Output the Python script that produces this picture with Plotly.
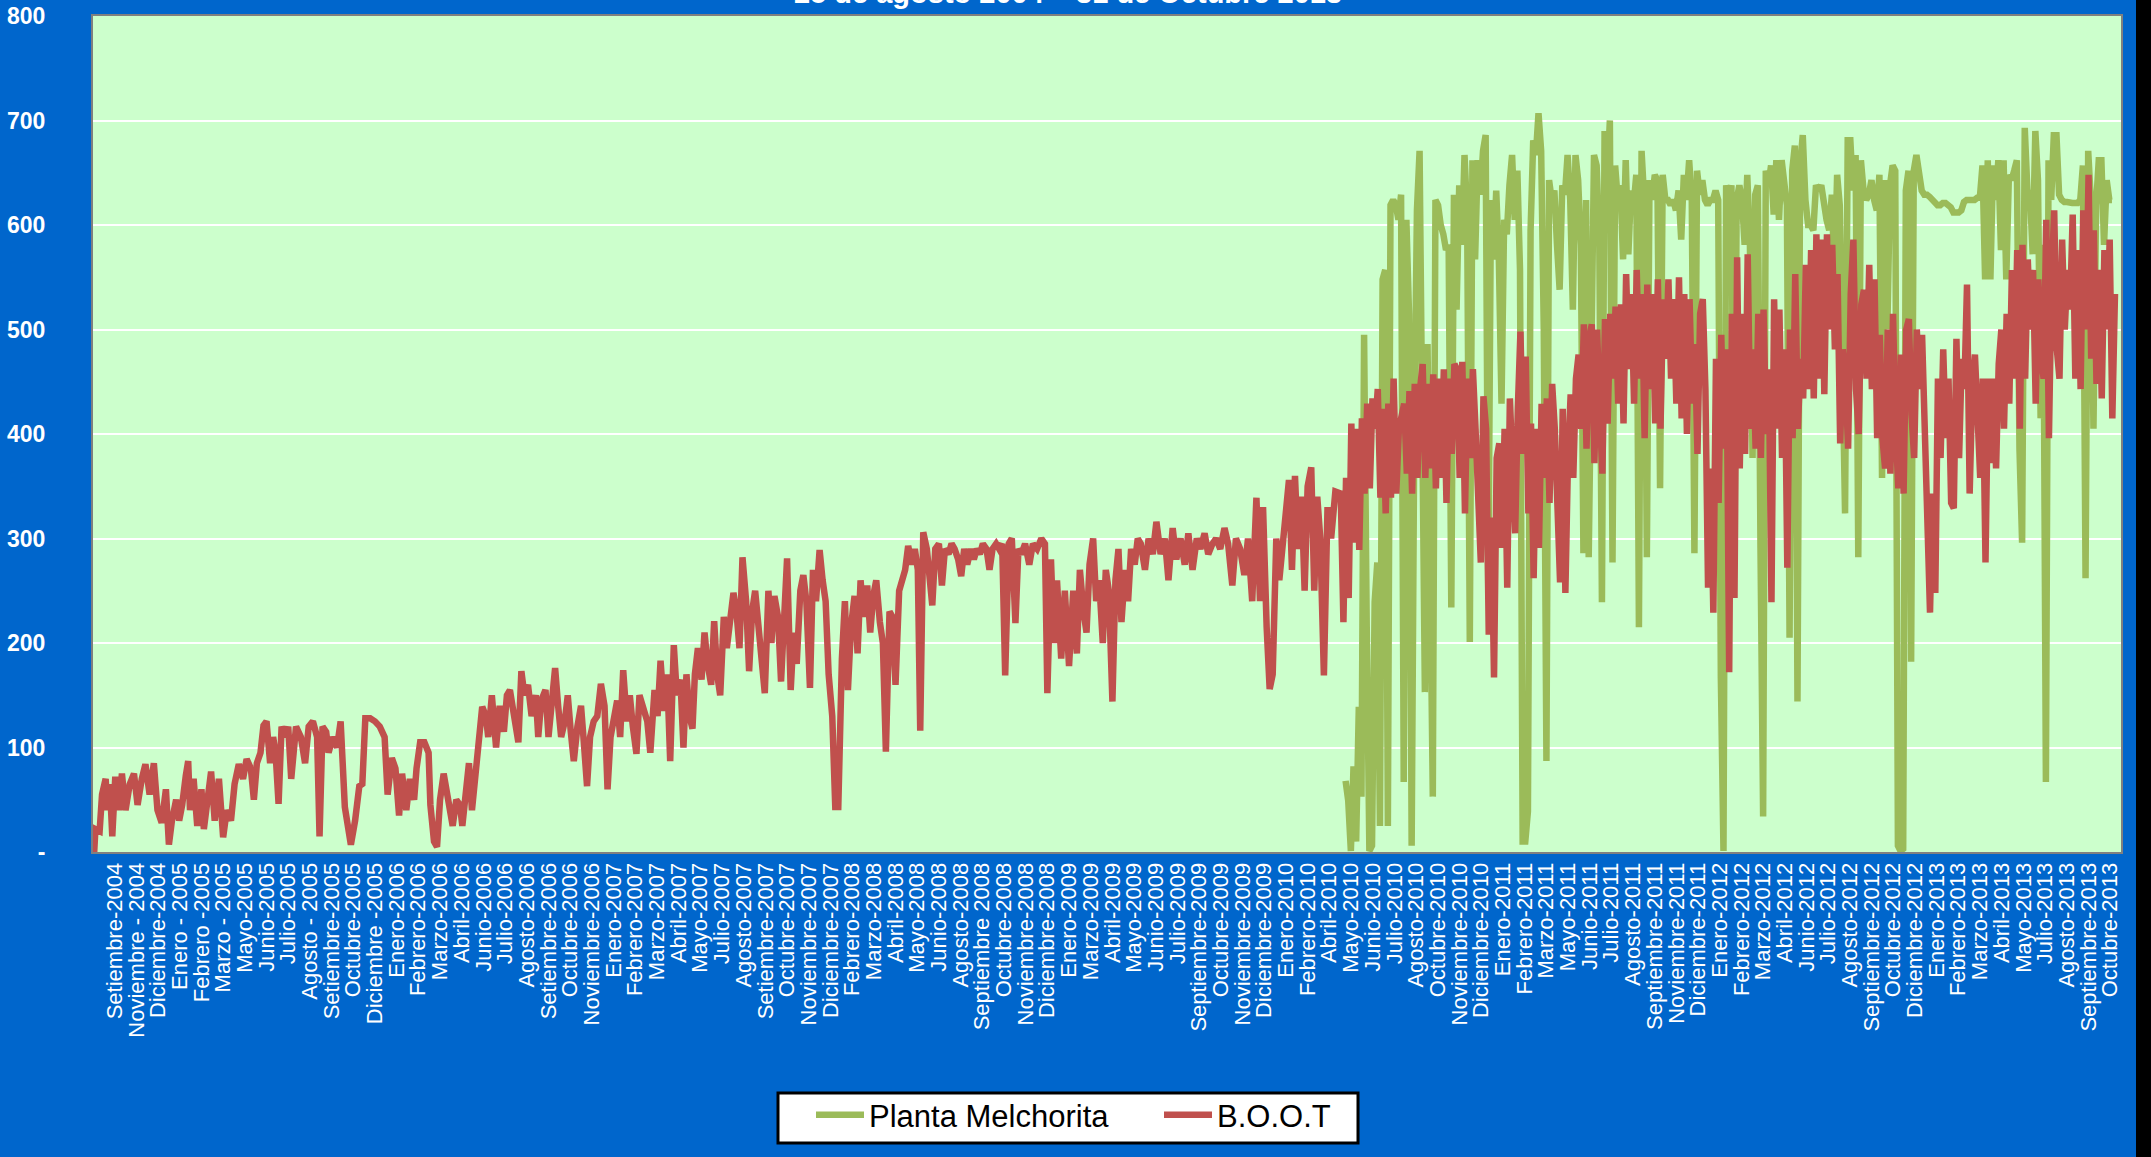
import numpy as np
import plotly.graph_objects as go

# ---------------- data ----------------
titulo = "25 de agosto 2004 – 31 de Octubre 2013"
serie_verde = "Planta Melchorita"
serie_roja = "B.O.O.T"

# category labels of the x axis (one every 36 days)
etiquetas = [
    "Setiembre-2004", "Noviembre - 2004", "Diciembre-2004", "Enero - 2005", "Febrero -2005",
    "Marzo - 2005", "Mayo-2005", "Junio-2005", "Julio-2005", "Agosto - 2005", "Setiembre-2005",
    "Octubre-2005", "Diciembre -2005", "Enero-2006", "Febrero-2006", "Marzo-2006", "Abril-2006",
    "Junio-2006", "Julio-2006", "Agosto-2006", "Setiembre-2006", "Octubre-2006", "Noviembre-2006",
    "Enero-2007", "Febrero-2007", "Marzo-2007", "Abril-2007", "Mayo-2007", "Julio-2007",
    "Agosto-2007", "Setiembre-2007", "Octubre-2007", "Noviembre-2007", "Diciembre-2007",
    "Febrero-2008", "Marzo-2008", "Abril-2008", "Mayo-2008", "Junio-2008", "Agosto-2008",
    "Septiembre 2008", "Octubre-2008", "Noviembre-2008", "Diciembre-2008", "Enero-2009",
    "Marzo-2009", "Abril-2009", "Mayo-2009", "Junio-2009", "Julio-2009", "Septiembre-2009",
    "Octubre-2009", "Noviembre-2009", "Diciembre-2009", "Enero-2010", "Febrero-2010",
    "Abril-2010", "Mayo-2010", "Junio-2010", "Julio-2010", "Agosto-2010", "Octubre-2010",
    "Noviembre-2010", "Diciembre-2010", "Enero-2011", "Febrero-2011", "Marzo-2011", "Mayo-2011",
    "Junio-2011", "Julio-2011", "Agosto-2011", "Septiembre-2011", "Noviembre-2011",
    "Diciembre-2011", "Enero-2012", "Febrero-2012", "Marzo-2012", "Abril-2012", "Junio-2012",
    "Julio-2012", "Agosto-2012", "Septiembre-2012", "Octubre-2012", "Diciembre-2012",
    "Enero-2013", "Febrero-2013", "Marzo-2013", "Abril-2013", "Mayo-2013", "Julio-2013",
    "Agosto-2013", "Septiembre-2013", "Octubre-2013",
]
dias_por_etiqueta = 36
dias_total = 3366

y_ticks = [0, 100, 200, 300, 400, 500, 600, 700, 800]
y_textos = ["-", "100", "200", "300", "400", "500", "600", "700", "800"]

# B.O.O.T, first stretch (day since 25-ago-2004, value)
boot_tramo1 = [
    (0, 20), (2, 0), (4, 22), (11, 20), (15, 55), (21, 70), (24, 40), (28, 65), (32, 15), (37, 72),
    (43, 40), (48, 75), (54, 40), (61, 65), (68, 75), (74, 45), (81, 70), (87, 84), (94, 55), (101, 85),
    (107, 40), (114, 28), (121, 60), (126, 7), (131, 30), (138, 50), (143, 30), (148, 45), (154, 73),
    (158, 87), (161, 40), (167, 70), (173, 25), (180, 60), (184, 22), (191, 50), (196, 77), (202, 30),
    (209, 70), (216, 14), (222, 40), (229, 30), (235, 65), (242, 84), (249, 70), (255, 89), (262, 80),
    (267, 50), (272, 85), (278, 95), (283, 121), (288, 125), (294, 85), (299, 110), (303, 95), (308, 46),
    (313, 120), (319, 110), (324, 120), (329, 70), (337, 120), (345, 110), (352, 85), (358, 120),
    (365, 125), (372, 110), (376, 15), (381, 120), (387, 115), (391, 95), (398, 110), (405, 100),
    (411, 125), (418, 43), (423, 19), (428, 7), (435, 30), (442, 63), (447, 65), (452, 128), (460, 128),
    (468, 125), (476, 120), (484, 110), (489, 55), (496, 90), (502, 80), (508, 35), (513, 75), (520, 40),
    (526, 70), (533, 50), (537, 80), (543, 105), (550, 105), (557, 95), (560, 45), (566, 10), (571, 5),
    (576, 50), (582, 75), (587, 55), (592, 40), (597, 25), (603, 50), (609, 45), (613, 25), (619, 55),
    (624, 85), (629, 40), (634, 70), (640, 111), (646, 139), (652, 130), (656, 110), (662, 150),
    (669, 100), (675, 140), (682, 115), (687, 150), (692, 155), (699, 130), (706, 105), (711, 173),
    (716, 150), (722, 160), (728, 130), (735, 150), (739, 110), (744, 145), (751, 155), (756, 110),
    (761, 140), (767, 176), (772, 140), (777, 110), (783, 125), (788, 150), (793, 115), (798, 87),
    (804, 120), (810, 140), (814, 110), (820, 63), (825, 110), (831, 125), (837, 130), (843, 161),
    (849, 140), (854, 60), (859, 110), (865, 130), (870, 145), (875, 110), (880, 174), (886, 125),
    (891, 150), (896, 120), (902, 94), (907, 150), (913, 140), (920, 125), (925, 95), (932, 155),
    (937, 130), (942, 183), (948, 135), (953, 170), (958, 87), (964, 198), (969, 150), (975, 165),
    (980, 100), (985, 170), (990, 130), (995, 118), (999, 170), (1004, 195), (1010, 165), (1015, 210),
    (1020, 180), (1026, 160), (1031, 221), (1036, 170), (1041, 150), (1047, 225), (1052, 195),
    (1057, 226), (1063, 248), (1068, 230), (1073, 195), (1078, 282), (1084, 240), (1089, 173),
    (1094, 230), (1099, 250), (1105, 210), (1110, 180), (1115, 152), (1121, 250), (1126, 200),
    (1131, 245), (1137, 225), (1142, 163), (1147, 240), (1152, 281), (1158, 155), (1163, 210),
    (1168, 180), (1174, 250), (1179, 265), (1184, 240), (1190, 157), (1195, 270), (1200, 240),
    (1206, 289), (1211, 260), (1216, 240), (1221, 170), (1227, 130), (1232, 43), (1237, 43),
    (1243, 185), (1248, 240), (1253, 155), (1258, 215), (1264, 245), (1269, 190), (1274, 260),
    (1279, 225), (1285, 255), (1290, 210), (1295, 245), (1300, 260), (1306, 220), (1311, 200),
    (1316, 96), (1322, 230), (1327, 225), (1332, 160), (1338, 250), (1343, 260), (1348, 270),
    (1353, 293), (1359, 275), (1364, 290), (1369, 270), (1373, 116), (1378, 306), (1384, 290),
    (1389, 260), (1393, 236), (1398, 290), (1404, 295), (1409, 255), (1414, 290), (1420, 285),
    (1425, 295), (1430, 290), (1436, 280), (1441, 264), (1446, 290), (1451, 275), (1457, 290),
    (1462, 280), (1467, 290), (1472, 285), (1477, 295), (1483, 290), (1488, 270), (1493, 290),
    (1499, 295), (1504, 290), (1509, 295), (1514, 169), (1520, 295), (1525, 300), (1531, 219),
    (1536, 290), (1541, 285), (1547, 295), (1554, 275), (1560, 295), (1567, 290), (1574, 300),
    (1580, 295), (1584, 152), (1590, 280), (1595, 200), (1600, 260), (1607, 185), (1613, 250),
    (1620, 178), (1627, 250), (1633, 190), (1638, 270), (1644, 230), (1649, 210), (1654, 275),
    (1660, 300), (1665, 240), (1670, 260), (1676, 200), (1681, 270), (1686, 250), (1692, 144),
    (1697, 260), (1702, 290), (1707, 220), (1713, 270), (1718, 240), (1723, 290), (1729, 275),
    (1734, 300), (1739, 295), (1746, 270), (1752, 300), (1759, 285), (1765, 316), (1772, 285),
    (1779, 300), (1785, 260), (1792, 310), (1798, 280), (1805, 300), (1812, 275), (1818, 305),
    (1825, 270), (1832, 300), (1838, 290), (1845, 305), (1851, 285), (1858, 295), (1864, 300),
    (1871, 290), (1878, 310), (1884, 295), (1891, 255), (1897, 300), (1904, 290), (1911, 265),
    (1917, 300), (1924, 240), (1931, 339), (1937, 240), (1942, 330), (1948, 215), (1953, 156),
    (1958, 170), (1964, 300), (1969, 260), (1974, 290), (1979, 310), (1985, 356), (1990, 270),
    (1995, 360), (2000, 290), (2006, 340), (2011, 250), (2016, 350), (2022, 368), (2027, 250),
    (2032, 340), (2037, 300), (2043, 169), (2049, 330), (2055, 300), (2062, 345),
]

# B.O.O.T, second stretch: values read at regular steps between these days
boot_tramo2_inicio, boot_tramo2_fin = 2071, 3356
boot_tramo2 = [
    343, 220, 358, 243, 410, 296, 405, 289, 415, 343, 429, 348, 434, 405, 443, 339, 424, 324, 429, 339,
    453, 343, 405, 419, 429, 362, 441, 343, 448, 358, 443, 467, 358, 448, 367, 457, 348, 453, 358, 462,
    334, 453, 381, 467, 462, 358, 469, 324, 453, 377, 462, 405, 343, 277, 436, 405, 208, 320, 167, 377,
    391, 291, 405, 253, 434, 367, 305, 424, 498, 381, 474, 324, 410, 262, 405, 291, 429, 358, 434, 334,
    448, 405, 310, 258, 424, 248, 377, 438, 358, 453, 476, 405, 505, 386, 491, 505, 372, 500, 424, 362,
    510, 410, 515, 453, 522, 429, 524, 410, 553, 462, 534, 429, 557, 453, 534, 396, 543, 443, 534, 410,
    548, 405, 529, 472, 548, 453, 529, 429, 550, 415, 534, 400, 529, 429, 486, 381, 515, 529, 443, 253,
    367, 229, 472, 334, 495, 386, 481, 172, 515, 243, 569, 367, 515, 381, 572, 405, 481, 386, 515, 377,
    519, 400, 462, 239, 529, 405, 519, 377, 481, 272, 500, 396, 553, 405, 472, 434, 562, 443, 576, 434,
    591, 453, 586, 438, 591, 500, 581, 481, 553, 391, 481, 453, 386, 534, 586, 443, 400, 524, 538, 453,
    562, 443, 548, 396, 495, 396, 367, 500, 362, 515, 405, 348, 476, 343, 500, 510, 419, 377, 500, 443,
    495, 405, 329, 229, 343, 248, 453, 377, 481, 396, 453, 334, 329, 491, 377, 472, 443, 543, 343, 443,
    476, 396, 358, 453, 277, 453, 372, 453, 367, 467, 500, 405, 515, 429, 557, 453, 576, 405, 581, 453,
    567, 500, 557, 429, 548, 472, 453, 605, 396, 548, 614, 481, 453, 586, 500, 557, 519, 610, 453, 576,
    443, 614, 500, 648, 472, 595, 448, 557, 434, 576, 500, 586, 415, 534,
]

# Planta Melchorita: values read at regular steps between these days
melchorita_inicio, melchorita_fin = 2079, 3351
melchorita = [
    68, 49, 1, 82, 10, 139, 53, 495, 215, 1, 6, 239, 277, 25, 548, 557, 25, 619, 624, 619,
    605, 629, 67, 605, 515, 6, 405, 614, 671, 310, 153, 486, 215, 53, 624, 619, 600, 591, 576, 581,
    234, 629, 519, 638, 581, 667, 610, 201, 662, 567, 662, 629, 671, 686, 248, 624, 567, 633, 567, 429,
    605, 591, 638, 667, 605, 652, 557, 10, 10, 39, 595, 681, 667, 707, 671, 500, 87, 643, 624, 633,
    581, 538, 638, 629, 667, 624, 519, 667, 643, 581, 286, 624, 282, 548, 667, 657, 586, 239, 690, 643,
    700, 277, 657, 624, 638, 567, 662, 572, 633, 619, 648, 215, 671, 624, 282, 643, 624, 648, 643, 348,
    648, 624, 624, 619, 624, 614, 633, 586, 648, 624, 662, 624, 286, 652, 629, 643, 624, 619, 624, 624,
    633, 624, 167, 1, 638, 624, 638, 282, 624, 638, 624, 581, 648, 581, 377, 629, 638, 291, 34, 652,
    638, 657, 610, 662, 605, 662, 633, 619, 205, 652, 676, 144, 657, 686, 624, 600, 600, 595, 638, 633,
    638, 619, 605, 595, 629, 548, 648, 619, 410, 324, 681, 681, 633, 667, 282, 662, 633, 624, 629, 643,
    624, 614, 648, 358, 643, 500, 638, 657, 652, 6, 1, 3, 633, 652, 182, 652, 667, 652, 633, 629,
    629, 627, 624, 622, 619, 619, 621, 621, 619, 617, 612, 612, 612, 614, 622, 624, 624, 624, 624, 626,
    626, 657, 548, 662, 548, 657, 624, 662, 576, 662, 548, 648, 643, 652, 662, 386, 296, 693, 633, 629,
    572, 690, 643, 415, 581, 67, 662, 624, 686, 686, 629, 624, 622, 622, 621, 621, 621, 621, 624, 657,
    262, 671, 624, 405, 619, 662, 662, 581, 643, 624, 624,
]

# ---------------- build ----------------
W_VENTANA, H = 2151, 1157
W = 2136                      # figure width; the strip to its right is the black page background
ML, MR, MT, MB = 93, 15, 16, 305
PW, PH = W - ML - MR, H - MT - MB

AZUL = "#0066CC"
FONDO = "#CCFFCC"
VERDE = "#9BBB59"
ROJO = "#C0504D"
FUENTE = "Liberation Sans, Arial, sans-serif"

boot_x = [d for d, _ in boot_tramo1] + list(np.linspace(boot_tramo2_inicio, boot_tramo2_fin, len(boot_tramo2)))
boot_y = [v for _, v in boot_tramo1] + boot_tramo2
mel_x = list(np.linspace(melchorita_inicio, melchorita_fin, len(melchorita)))

fig = go.Figure()
fig.add_trace(go.Scatter(x=mel_x, y=melchorita, mode="lines", name=serie_verde,
                         line=dict(color=VERDE, width=6.5)))
fig.add_trace(go.Scatter(x=boot_x, y=boot_y, mode="lines", name=serie_roja,
                         line=dict(color=ROJO, width=6.5)))

tick_x = [dias_por_etiqueta * (i + 1) for i in range(len(etiquetas))]


def px_x(p):
    return (p - ML) / PW


def px_y(p):
    return 1 - (p - MT) / PH


fig.update_layout(
    width=W, height=H,
    margin=dict(l=ML, r=MR, t=MT, b=MB, pad=0, autoexpand=False),
    paper_bgcolor=AZUL,
    plot_bgcolor=FONDO,
    font=dict(family=FUENTE, color="white"),
    showlegend=True,
    legend=dict(
        orientation="h",
        xref="container", x=811 / W, xanchor="left",
        yref="container", y=1 - 1088 / H, yanchor="top",
        bgcolor="rgba(0,0,0,0)", borderwidth=0,
        font=dict(family=FUENTE, size=31, color="black"),
        itemwidth=48,
        entrywidth=285,
    ),
    xaxis=dict(
        range=[0, dias_total],
        tickmode="array", tickvals=tick_x, ticktext=etiquetas,
        tickangle=-90,
        tickfont=dict(family=FUENTE, size=22, color="white"),
        ticks="",
        ticklabelstandoff=0,
        automargin=False,
        showgrid=False, zeroline=False,
        showline=True, linecolor="#808080", linewidth=2, mirror=True,
    ),
    yaxis=dict(
        range=[0, 800],
        tickmode="array", tickvals=y_ticks, ticktext=y_textos,
        tickfont=dict(family=FUENTE, size=23, color="white", weight="bold"),
        ticks="",
        ticklabelstandoff=41,
        automargin=False,
        showgrid=True, gridcolor="white", gridwidth=1.5,
        zeroline=False,
        showline=True, linecolor="#808080", linewidth=2, mirror=True,
    ),
    annotations=[dict(
        text=titulo, xref="paper", yref="paper",
        x=px_x(1068), y=px_y(-7),
        xanchor="center", yanchor="middle", showarrow=False,
        font=dict(family=FUENTE, size=29, color="white", weight="bold"),
    )],
    shapes=[
        dict(type="rect", xref="paper", yref="paper", layer="above",
             x0=px_x(778), x1=px_x(1358), y0=px_y(1143), y1=px_y(1093),
             fillcolor="white", line=dict(color="black", width=3)),
    ],
)

fig.write_html(
    "out.html",
    config={"displayModeBar": False},
    post_script=(
        "document.body.style.margin='0';"
        "document.body.style.overflow='hidden';"
        "document.body.style.background='black';"
    ),
)
